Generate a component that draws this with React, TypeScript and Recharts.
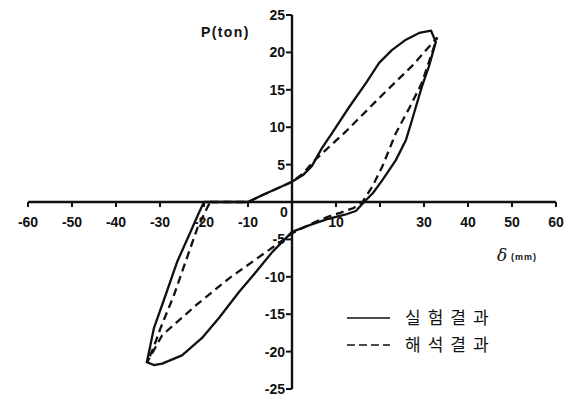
import React from 'react';
import { LineChart, Line, XAxis, YAxis, ReferenceLine, ReferenceDot } from 'recharts';

// Experimental hysteresis loop (displacement in mm, load in ton)
const testDisp = [
  -20, -10, -6.8, -3, 0, 2.5, 4.5, 6.8, 9.1, 13, 16.8, 19.8, 22.7, 25.9, 28.9, 31.6, 32.7,
  31.1, 29.5, 28.3, 27.3, 25.9, 23.6, 20.5, 18.4, 16.4, 14.5, 12, 8, 4, 0, -1,
  -4.5, -9.1, -12, -16.6, -20.5, -25, -29.5, -31.4, -33,
  -32.3, -31.4, -28.7, -26.1, -22.7, -21.2, -20,
];
const testLoad = [
  0, 0, 0.9, 1.9, 2.7, 3.6, 4.8, 7.2, 9.2, 12.7, 15.9, 18.6, 20.3, 21.7, 22.6, 22.9, 21.4,
  18.1, 15.4, 13, 11, 8.3, 5.6, 2.9, 1.2, 0, -1.2, -1.7, -2.3, -3.1, -4.0, -4.6,
  -6.7, -10, -12, -15.5, -18.2, -20.5, -21.6, -21.8, -21.4,
  -19.5, -16.9, -12.4, -8.0, -3.5, -1.5, 0,
];

// Analytical hysteresis loop
const simDisp = [
  -18.6, -10, -6.8, -3, 0, 2.5, 5, 12.2, 19.8, 27.3, 33,
  29.5, 26.6, 23.6, 20.5, 18.2, 16, 14, 10.7, 8, 4, 0,
  -5.2, -14.3, -21.8, -29.5, -33,
  -31.5, -29.9, -26.8, -24.2, -21.5, -19.3, -18.6,
];
const simLoad = [
  0, 0, 0.9, 1.9, 2.7, 3.8, 5.5, 9.4, 13.9, 18.2, 22,
  15.9, 12.5, 9.2, 4.7, 2, 0, -0.8, -1.5, -2.0, -3.0, -4.2,
  -6.4, -10.2, -13.8, -17.8, -21.5,
  -19.5, -16.9, -12.4, -8.0, -3.5, -0.8, 0,
];

const xTicks = [-60, -50, -40, -30, -20, -10, 0, 10, 20, 30, 40, 50, 60];
const xTickLabels = ['-60', '-50', '-40', '-30', '-20', '-10', '0', '10', '', '30', '40', '50', '60'];
const yTicks = [25, 20, 15, 10, 5, -5, -10, -15, -20, -25];
const yTickLabels = ['25', '20', '15', '10', '5', '-5', '-10', '-15', '-20', '-25'];

const seriesNames = ['실험결과', '해석결과'];

const testData = testDisp.map((x, i) => ({ x, y: testLoad[i] }));
const simData = simDisp.map((x, i) => ({ x, y: simLoad[i] }));

const INK = '#111';
const tickFont = { fontFamily: 'Liberation Sans, Arial, sans-serif', fontSize: 14, fontWeight: 700, fill: INK } as const;

const xTickShape = (label: string, value: number) => (props: any) => {
  const { cx, cy } = props;
  if (value === 0) {
    return (
      <text x={cx - 8} y={cy + 15} textAnchor="middle" {...tickFont}>{label}</text>
    );
  }
  return (
    <g>
      <line x1={cx} y1={cy} x2={cx} y2={cy + 5} stroke={INK} strokeWidth={2} />
      {label && (
        <text x={cx} y={cy + 25} textAnchor="middle" {...tickFont}>{label}</text>
      )}
    </g>
  );
};

const yTickShape = (label: string) => (props: any) => {
  const { cx, cy } = props;
  return (
    <g>
      <line x1={cx - 6} y1={cy} x2={cx} y2={cy} stroke={INK} strokeWidth={2} />
      <text x={cx - 7} y={cy + 5} textAnchor="end" {...tickFont}>{label}</text>
    </g>
  );
};

export default function App() {
  return (
    <div style={{ position: 'absolute', left: 0, top: 0, width: 568, height: 397, background: '#fff' }}>
      <LineChart
        width={568}
        height={397}
        margin={{ top: 15, left: 28, right: 12, bottom: 8 }}
      >
        <XAxis type="number" dataKey="x" domain={[-60, 60]} hide />
        <YAxis type="number" dataKey="y" domain={[-25, 25]} hide />
        <ReferenceLine y={0} stroke={INK} strokeWidth={2.4} />
        <ReferenceLine x={0} stroke={INK} strokeWidth={2.4} />
        {xTicks.map((t, i) => (
          <ReferenceDot key={`xt${t}`} x={t} y={0} r={0} shape={xTickShape(xTickLabels[i], t)} />
        ))}
        {yTicks.map((t, i) => (
          <ReferenceDot key={`yt${t}`} x={0} y={t} r={0} shape={yTickShape(yTickLabels[i])} />
        ))}
        <Line
          data={testData}
          dataKey="y"
          type="linear"
          stroke={INK}
          strokeWidth={2.3}
          strokeLinejoin="round"
          dot={false}
          isAnimationActive={false}
        />
        <Line
          data={simData}
          dataKey="y"
          type="linear"
          stroke={INK}
          strokeWidth={2.3}
          strokeDasharray="8 5"
          dot={false}
          isAnimationActive={false}
        />
      </LineChart>
      <svg
        width={568}
        height={397}
        style={{ position: 'absolute', left: 0, top: 0, pointerEvents: 'none' }}
      >
        <text x={201} y={37} fontFamily="Liberation Sans, Arial, sans-serif" fontSize={14} fontWeight={700} letterSpacing={1.4} fill={INK}>
          P(ton)
        </text>
        <text x={497} y={261} fontFamily="DejaVu Serif, serif" fontStyle="italic" fontSize={17} fill={INK}>δ</text>
        <text x={511} y={260} fontFamily="Liberation Sans, Arial, sans-serif" fontSize={9} fontWeight={700} letterSpacing={1} fill={INK}>
          (mm)
        </text>
        <line x1={347} y1={318} x2={390} y2={318} stroke={INK} strokeWidth={1.6} />
        <line x1={347} y1={345} x2={390} y2={345} stroke={INK} strokeWidth={1.6} strokeDasharray="8 4" />
        <text x={405} y={324} fontFamily="Noto Sans CJK KR, sans-serif" fontSize={17} letterSpacing={7} fill={INK}>
          {seriesNames[0]}
        </text>
        <text x={405} y={351} fontFamily="Noto Sans CJK KR, sans-serif" fontSize={17} letterSpacing={7} fill={INK}>
          {seriesNames[1]}
        </text>
      </svg>
    </div>
  );
}
